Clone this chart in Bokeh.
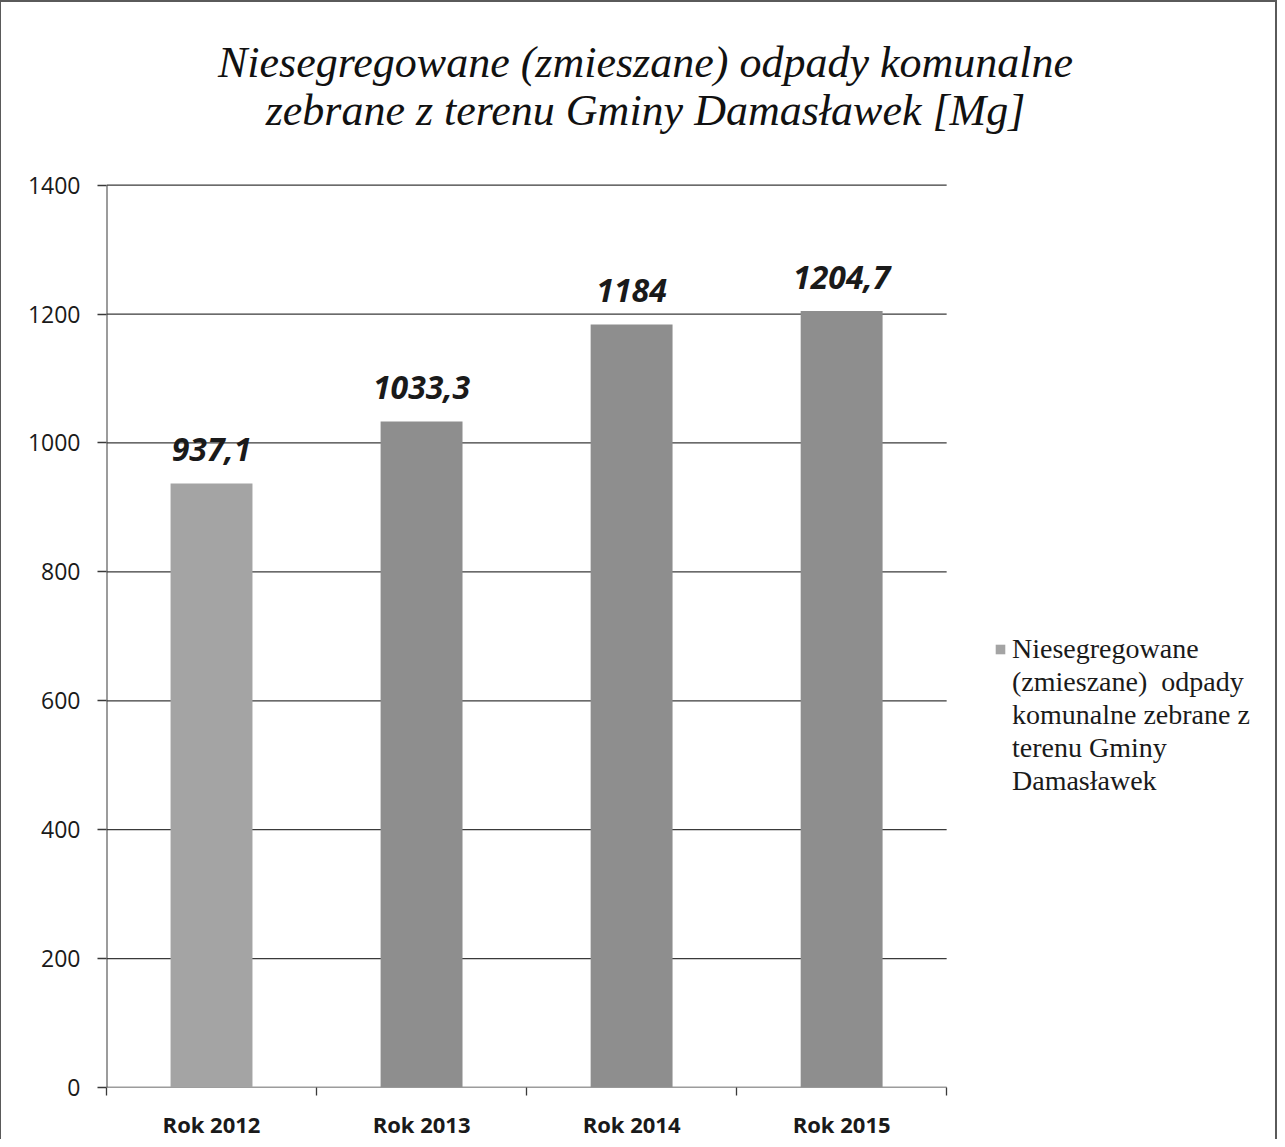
from bokeh.plotting import figure
from bokeh.models import ColumnDataSource, FixedTicker, Label, Legend, LegendItem
from bokeh.core.properties import value
from bokeh.embed import file_html
from bokeh.resources import INLINE

# ---- data ----
categories = ["Rok 2012", "Rok 2013", "Rok 2014", "Rok 2015"]
values = [937.1, 1033.3, 1184, 1204.7]
value_labels = ["937,1", "1033,3", "1184", "1204,7"]
y_ticks = [0, 200, 400, 600, 800, 1000, 1200, 1400]
title_lines = ["Niesegregowane (zmieszane) odpady komunalne",
               "zebrane z terenu Gminy Damasławek [Mg]"]
legend_lines = ["Niesegregowane", "(zmieszane)  odpady", "komunalne zebrane z",
                "terenu Gminy", "Damasławek"]

bar_colors = ["#a4a4a4", "#8e8e8e", "#8e8e8e", "#8e8e8e"]

n = len(categories)
xs = [i + 0.5 for i in range(n)]
source = ColumnDataSource(dict(x=xs, top=values, lab=value_labels, color=bar_colors))
grid_src = ColumnDataSource(dict(x0=[0] * len(y_ticks), x1=[n] * len(y_ticks),
                                 y=y_ticks))

# ---- layout (px) ----
W, H = 1277, 1139
BORDER_L, BORDER_B = 105, 50
FRAME_W = W - 3 - BORDER_L          # frame spans the whole width (legend inside)
FRAME_H = H - 2 - BORDER_B          # frame spans the whole height (title inside)
BAR_AREA_W = 838                    # width of the category area
BAR_AREA_H = 904                    # height of the value area (0..1400)
x_end = n * FRAME_W / BAR_AREA_W
y_end = y_ticks[-1] * FRAME_H / BAR_AREA_H

p = figure(width=W, height=H, output_backend="svg", toolbar_location=None,
           x_range=(0, x_end), y_range=(y_ticks[0], y_end),
           min_border_left=BORDER_L, min_border_right=0, min_border_top=0,
           min_border_bottom=BORDER_B,
           styles={"border-top": "2px solid #5a5a5a",
                   "border-left": "1px solid #5a5a5a",
                   "border-right": "2px solid #5a5a5a"})
p.outline_line_color = None
p.background_fill_color = "white"
p.border_fill_color = "white"
p.grid.visible = False

# horizontal grid lines limited to the category area (0 line doubles as x axis line)
p.segment(x0="x0", x1="x1", y0="y", y1="y", source=grid_src,
          line_color="#3a3a3a", line_width=1.3)
# y axis line limited to 0..1400
p.segment(x0=[0], x1=[0], y0=[y_ticks[0]], y1=[y_ticks[-1]],
          line_color="#3a3a3a", line_width=2)

# bars
r = p.vbar(x="x", top="top", width=0.39, source=source,
           fill_color="color", line_color=None)
# empty, invisible renderer used for the continuation lines of the legend
blank = p.vbar(x=[], top=[], width=0.39, fill_alpha=0, line_alpha=0)

# value labels
p.text(x="x", y="top", text="lab", source=source,
       text_font=value("Open Sans"), text_font_style="bold italic",
       text_font_size="32px", text_color="#1a1a1a",
       text_align="center", text_baseline="alphabetic", y_offset=-34)

# y axis (ticks and labels only)
ya = p.yaxis[0]
ya.ticker = FixedTicker(ticks=y_ticks)
ya.axis_line_color = None
ya.major_tick_line_color = "#3a3a3a"
ya.major_tick_line_width = 1.3
ya.major_tick_out = 9
ya.major_tick_in = 0
ya.minor_tick_line_color = None
ya.major_label_text_font = "Open Sans"
ya.major_label_text_font_size = "23px"
ya.major_label_text_color = "#1a1a1a"
ya.major_label_standoff = 17

# x axis: labels at centres, tick marks at category boundaries
xa = p.xaxis[0]
xa.ticker = FixedTicker(ticks=xs, minor_ticks=list(range(n + 1)))
xa.major_label_overrides = {x: c for x, c in zip(xs, categories)}
xa.axis_line_color = None
xa.major_tick_out = 0
xa.major_tick_in = 0
xa.minor_tick_out = 8
xa.minor_tick_in = 0
xa.minor_tick_line_color = "#3a3a3a"
xa.minor_tick_line_width = 1.3
xa.major_label_text_font = "Open Sans"
xa.major_label_text_font_style = "bold"
xa.major_label_text_font_size = "22px"
xa.major_label_text_color = "#1a1a1a"
xa.major_label_standoff = 13

# title: two centred lines (screen units, measured from the frame's bottom-left)
for i, line in enumerate(title_lines):
    p.add_layout(Label(x=539, y=1025 - 48 * i, x_units="screen", y_units="screen",
                       text=line, text_font="Liberation Serif",
                       text_font_style="italic", text_font_size="44px",
                       text_color="#111111", text_align="center",
                       text_baseline="middle"))

# legend (inside the wide frame, right of the bars)
items = [LegendItem(label=legend_lines[0], renderers=[r], index=0)]
items += [LegendItem(label=t, renderers=[blank]) for t in legend_lines[1:]]
legend = Legend(items=items, location=(888, 290), border_line_color=None,
                background_fill_alpha=0, padding=0, margin=0, spacing=0,
                glyph_width=12, glyph_height=12, label_standoff=6,
                label_height=33,
                label_text_font="Liberation Serif", label_text_font_size="28px",
                label_text_color="#1a1a1a")
p.add_layout(legend, "center")

open("out.html", "w").write(file_html(p, INLINE))
